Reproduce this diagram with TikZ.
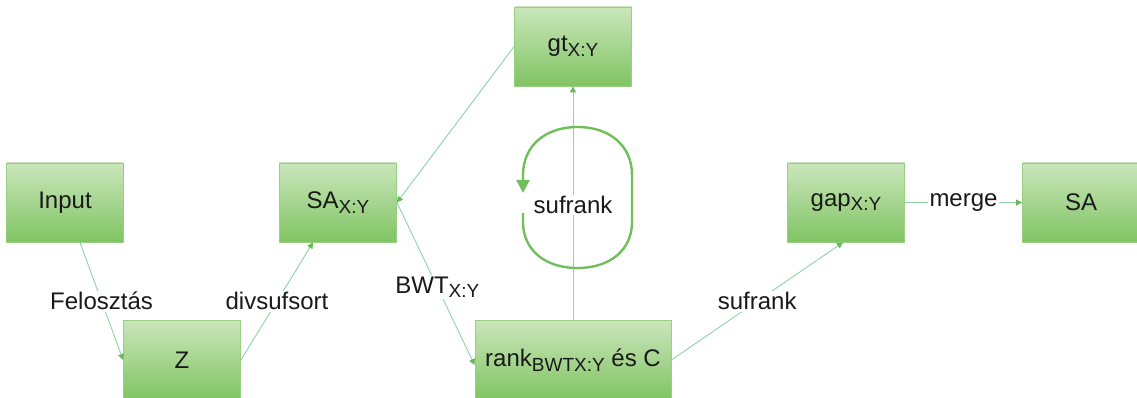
\documentclass[tikz,border=0pt]{standalone}
\usepackage{fontspec}
\setmainfont{Liberation Sans}
\usetikzlibrary{arrows.meta}
\definecolor{boxtop}{RGB}{202,230,188}
\definecolor{boxbot}{RGB}{128,196,98}
\definecolor{boxline}{RGB}{150,208,128}
\definecolor{conncol}{RGB}{140,212,165}
\definecolor{tipcol}{RGB}{104,184,86}
\definecolor{loopcol}{RGB}{112,190,92}
\definecolor{txt}{RGB}{25,25,25}
\newcommand{\sbx}[1]{\raisebox{-4.5pt}{\fontsize{19}{19}\selectfont #1}}
\begin{document}
\begin{tikzpicture}[x=1pt,y=-1pt,
  box/.style={draw=boxline, line width=0.8pt, top color=boxtop, bottom color=boxbot,
    minimum width=117pt, minimum height=79pt, inner sep=0pt, text=txt,
    font=\fontsize{24}{28}\selectfont},
  conn/.style={draw=conncol, line width=0.9pt,
    -{Triangle[length=6pt,width=6pt,fill=tipcol,color=tipcol]}},
  lbl/.style={fill=white, inner sep=1.5pt, text=txt, font=\fontsize{24}{28}\selectfont},
  loopline/.style={draw=loopcol, line width=2.4pt,
    -{Triangle[length=13pt,width=13pt,fill=loopcol,color=loopcol]}}
]
\useasboundingbox (0,0) rectangle (1137,398);

\node[box] (input) at (65,202.5) {Input};
\node[box, minimum height=80pt] (z) at (182,360) {Z};
\node[box] (saxy) at (338,202.5) {SA\sbx{X:Y}};
\node[box] (gt) at (573,46.5) {gt\sbx{X:Y}};
\node[box, minimum width=196pt, minimum height=80pt] (rank) at (573,360) {rank\sbx{BWTX:Y} és C};
\node[box] (gap) at (846,202.5) {gap\sbx{X:Y}};
\node[box] (sa) at (1081,202.5) {SA};

\draw[conn] ([xshift=15pt]input.south) -- (z.west) node[lbl,pos=0.5] (l1) {Felosztás};
\draw[conn] (z.east) -- ([xshift=-25pt]saxy.south) node[lbl,pos=0.5] (l2) {divsufsort};
\draw[conn] (gt.west) -- (saxy.east);
\draw[conn] (saxy.east) -- ([yshift=-5pt]rank.west) node[lbl,pos=0.52] (l3) {BWT\sbx{X:Y}};
\draw[conn] (rank.north) -- (gt.south);
\node[lbl] (l4) at (573,205) {sufrank};
\draw[conn] (rank.east) -- ([xshift=-3pt]gap.south) node[lbl,pos=0.5] (l5) {sufrank};
\draw[conn] (gap.east) -- (sa.west) node[lbl,pos=0.5] (l6) {merge};

\draw[loopline, line join=round] (523,213) -- (523,222)
  .. controls (523,250) and (545,268) .. (577.5,268)
  .. controls (610,268) and (632,250) .. (632,222)
  -- (632,175)
  .. controls (632,146) and (610,127) .. (577.5,127)
  .. controls (545,127) and (523,146) .. (523,175)
  -- (523,193);
\end{tikzpicture}
\end{document}
